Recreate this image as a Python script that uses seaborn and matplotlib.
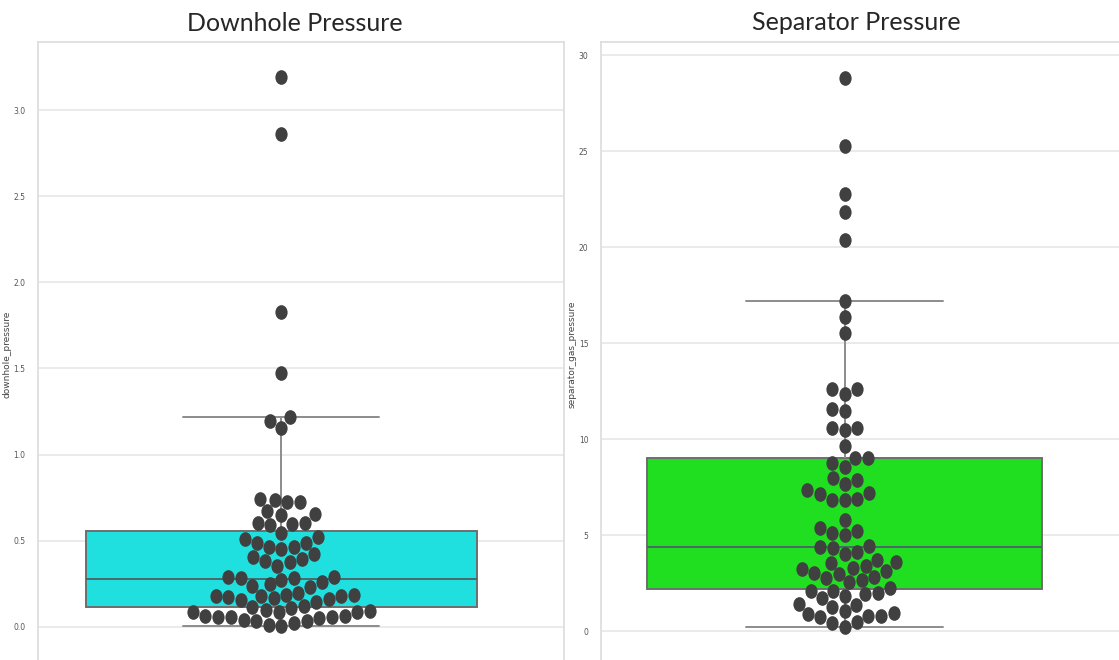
import matplotlib
matplotlib.use("Agg")
import matplotlib.pyplot as plt
from matplotlib.path import Path
from matplotlib.transforms import Affine2D
import seaborn as sns
import pandas as pd

# ---- data ----
downhole_pressure = [3.19, 2.86, 1.83, 1.475, 1.218, 1.193, 1.152,
                     0.743, 0.736, 0.722, 0.724,
                     0.672, 0.647, 0.653,
                     0.600, 0.590, 0.595, 0.600,
                     0.546,
                     0.488, 0.484, 0.465, 0.451, 0.461, 0.508, 0.519,
                     0.407, 0.378, 0.352, 0.383, 0.391, 0.420,
                     0.290, 0.281, 0.246, 0.232, 0.261, 0.290, 0.236, 0.271, 0.285,
                     0.184, 0.178, 0.178, 0.155, 0.145, 0.116, 0.174, 0.197, 0.120,
                     0.159, 0.165, 0.178, 0.184,
                     0.097, 0.090, 0.061, 0.058, 0.054, 0.039, 0.035, 0.010, 0.004,
                     0.023, 0.035, 0.049, 0.058, 0.062, 0.087, 0.087, 0.087, 0.107]

separator_gas_pressure = [28.79, 25.28, 22.77, 21.82, 20.38, 17.20, 16.38, 15.52,
                          12.59, 12.37, 12.62, 11.55, 11.45, 10.58, 10.46, 10.60, 9.62,
                          9.02, 8.99, 8.55, 8.76, 7.98, 7.65, 7.89,
                          7.16, 6.85, 6.85, 6.87, 7.19, 7.32, 5.77,
                          5.08, 4.99, 5.20, 5.34, 4.12, 4.30, 4.00, 4.35, 4.42,
                          3.60, 3.38, 3.55, 3.69, 3.22, 3.00, 2.96, 3.14, 3.26,
                          2.65, 2.53, 2.74, 2.79, 2.25, 2.10, 2.10, 1.70, 1.82, 1.91, 1.99,
                          1.40, 1.23, 1.04, 1.35, 0.95, 0.80, 0.80, 0.71, 0.86, 0.43, 0.22, 0.48]

titles = ["Downhole Pressure", "Separator Pressure"]
left_ticks = [0.0, 0.5, 1.0, 1.5, 2.0, 2.5, 3.0]
right_ticks = [0, 5, 10, 15, 20, 25, 30]

sns.set_theme(style="whitegrid")
plt.rcParams["font.family"] = ["DejaVu Sans"]

W, H = 1119, 660
fig = plt.figure(figsize=(W / 100, H / 100), dpi=100)

df1 = pd.DataFrame({"downhole_pressure": downhole_pressure})
df2 = pd.DataFrame({"separator_gas_pressure": separator_gas_pressure})

K = 1.2                      # vertical stretch of the reference image
FULL_H = 1 - 42 / H
pos1 = [38 / W, 0, 526 / W, FULL_H]
pos2 = [601 / W, 0, 541 / W, FULL_H]

box_kw = dict(showfliers=False, linecolor="#6e6e6e", linewidth=1.4,
              whiskerprops=dict(color="#8c8c8c"), capprops=dict(color="#8c8c8c"),
              medianprops=dict(color="#4a6868"))

# left panel (laid out on a shorter axes, then stretched like the reference)
ax1 = fig.add_axes([pos1[0], 0, pos1[2], FULL_H / K])
sns.boxplot(data=df1, y="downhole_pressure", color="cyan", ax=ax1, **box_kw)
sns.swarmplot(data=df1, y="downhole_pressure", color=".25", size=8.8, ax=ax1)
ax1.set_ylim(-0.193, 3.395)
ax1.set_xlim(-0.497, 0.577)
ax1.set_yticks(left_ticks)
ax1.set_yticklabels([f"{t:.1f}" for t in left_ticks])

# right panel
ax2 = fig.add_axes([pos2[0], 0, pos2[2], FULL_H / K])
sns.boxplot(data=df2, y="separator_gas_pressure", color="lime", ax=ax2, **box_kw)
sns.swarmplot(data=df2, y="separator_gas_pressure", color=".25", size=8.8, ax=ax2)
ax2.set_ylim(-1.51, 30.68)
ax2.set_xlim(-0.493, 0.602)
ax2.set_yticks(right_ticks)
ax2.set_yticklabels([str(t) for t in right_ticks])

# compute swarm layout, freeze it, then stretch axes to full height
fig.canvas.draw()
ellipse = Path.unit_circle().transformed(Affine2D().scale(0.5, 0.5 * K))
for ax, pos in ((ax1, pos1), (ax2, pos2)):
    for coll in ax.collections:
        if "draw" in coll.__dict__:
            del coll.draw
            coll.set_paths([ellipse])
    ax.set_position(pos)

for ax in (ax1, ax2):
    ax.tick_params(axis="y", labelsize=5.5, labelcolor="#555555", pad=3)
    ax.set_xticks([])
    ax.yaxis.label.set_size(6.5)
    ax.yaxis.label.set_color("#444444")
    ax.spines["bottom"].set_visible(False)
    for s in ax.spines.values():
        s.set_color("#dddddd")
    ax.grid(color="#e6e6e6", linewidth=1.2)

ax1.yaxis.set_label_coords(-0.05, 0.495)
ax2.yaxis.set_label_coords(-0.045, 0.495)

fig.text(294.5 / W, 1 - 31 / H, titles[0], ha="center", va="baseline",
         fontsize=18, family=["Lato", "DejaVu Sans"])
fig.text(856 / W, 1 - 30 / H, titles[1], ha="center", va="baseline",
         fontsize=18, family=["Lato", "DejaVu Sans"])

fig.savefig("out.png", dpi=100)
